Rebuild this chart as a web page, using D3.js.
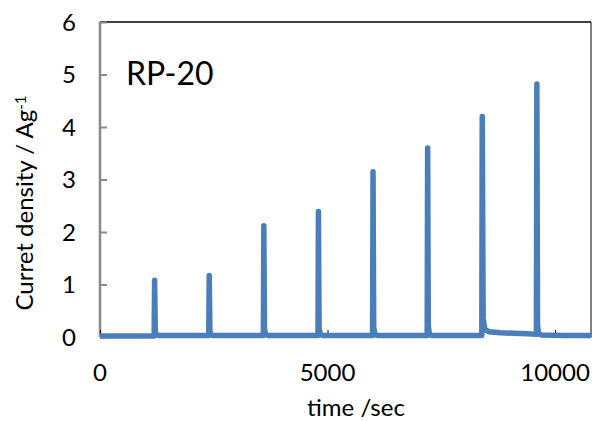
<!DOCTYPE html>
<html lang="en">
<head>
	<meta charset="UTF-8">
	<title>RP-20</title>
	<style type="text/css">
		body { margin: 0; background: #fff; }
		text { font-family: Lato, "Open Sans", sans-serif; fill: #000; }
	</style>
</head>
<body>
	<script type="text/javascript" src="https://cdn.jsdelivr.net/npm/d3@7"></script>
	<script type="text/javascript">
		// time (sec) and current density (A/g)
		var timeSec = [
			0, 600, 1190,
			1200, 1215, 1240, 1300, 1800, 2390,
			2400, 2415, 2440, 2500, 3000, 3590,
			3600, 3615, 3640, 3700, 4200, 4790,
			4800, 4815, 4840, 4900, 5400, 5990,
			6000, 6015, 6040, 6100, 6600, 7190,
			7200, 7215, 7240, 7300, 7800, 8390,
			8400, 8420, 8460, 8550, 8800, 9100, 9400, 9590,
			9600, 9615, 9640, 9700, 10200, 10800
		];
		var currentDensity = [
			0.02, 0.02, 0.02,
			1.08, 0.12, 0.04, 0.03, 0.03, 0.03,
			1.17, 0.12, 0.04, 0.03, 0.03, 0.03,
			2.12, 0.15, 0.05, 0.03, 0.03, 0.03,
			2.39, 0.16, 0.05, 0.03, 0.03, 0.03,
			3.15, 0.18, 0.05, 0.03, 0.03, 0.03,
			3.60, 0.20, 0.05, 0.03, 0.03, 0.03,
			4.20, 0.35, 0.14, 0.10, 0.08, 0.07, 0.06, 0.05,
			4.82, 0.22, 0.06, 0.04, 0.03, 0.03
		];
		var xTicks = [0, 5000, 10000];
		var yTicks = [0, 1, 2, 3, 4, 5, 6];
		var sampleName = 'RP-20';

		var w = 592;
		var h = 421;
		var pad = {left: 100, right: 591, top: 22, bottom: 337};

		var svg = d3.select('body')
					.append('svg')
					.attr('width', w)
					.attr('height', h);

		var x = d3.scaleLinear().domain([0, 10790]).range([pad.left, pad.right]);
		var y = d3.scaleLinear().domain([0, 6]).range([pad.bottom, pad.top]);

		// frame: black top and right
		svg.append('line')
			.attr('x1', pad.left).attr('x2', pad.right)
			.attr('y1', pad.top).attr('y2', pad.top)
			.attr('stroke', '#000').attr('stroke-width', 1.5);
		svg.append('line')
			.attr('x1', pad.right).attr('x2', pad.right)
			.attr('y1', pad.top).attr('y2', pad.bottom)
			.attr('stroke', '#000').attr('stroke-width', 1);

		// y axis (gray, ticks inside)
		var yAxis = d3.axisRight(y)
					.tickValues(yTicks)
					.tickSize(7)
					.tickFormat('');
		var gy = svg.append('g')
					.attr('transform', 'translate(' + pad.left + ',0)')
					.call(yAxis);
		gy.select('.domain').remove();
		gy.selectAll('line').attr('stroke', '#888').attr('stroke-width', 2);
		svg.append('line')
			.attr('x1', pad.left).attr('x2', pad.left)
			.attr('y1', pad.top).attr('y2', pad.bottom)
			.attr('stroke', '#888').attr('stroke-width', 2.5);

		svg.selectAll('.ylab')
			.data(yTicks)
			.enter()
			.append('text')
			.attr('class', 'ylab')
			.attr('x', 76)
			.attr('y', function (d) { return y(d); })
			.attr('dy', '0.36em')
			.attr('text-anchor', 'end')
			.attr('font-size', '24px')
			.text(function (d) { return d; });

		// x axis ticks (small, inside, black)
		var xAxis = d3.axisTop(x)
					.tickValues(xTicks)
					.tickSize(7)
					.tickFormat('');
		var gx = svg.append('g')
					.attr('transform', 'translate(0,' + pad.bottom + ')')
					.call(xAxis);
		gx.select('.domain').remove();
		gx.selectAll('line').attr('stroke', '#000').attr('stroke-width', 1);

		svg.selectAll('.xlab')
			.data(xTicks)
			.enter()
			.append('text')
			.attr('class', 'xlab')
			.attr('x', function (d) { return x(d); })
			.attr('y', 381)
			.attr('text-anchor', 'middle')
			.attr('font-size', '24px')
			.text(function (d) { return d; });

		// data trace
		var pts = d3.zip(timeSec, currentDensity);
		var line = d3.line()
					.x(function (d) { return x(d[0]); })
					.y(function (d) { return y(d[1]); });
		svg.append('path')
			.datum(pts)
			.attr('d', line)
			.attr('fill', 'none')
			.attr('stroke', '#4a7ebb')
			.attr('stroke-width', 5.5)
			.attr('stroke-linejoin', 'round')
			.attr('stroke-linecap', 'butt');

		// titles
		svg.append('text')
			.attr('x', 356)
			.attr('y', 416)
			.attr('text-anchor', 'middle')
			.attr('font-size', '24px')
			.text('time /sec');

		var yt = svg.append('text')
			.attr('transform', 'translate(33,203) rotate(-90)')
			.attr('text-anchor', 'middle')
			.attr('font-size', '24px');
		yt.append('tspan').text('Curret density / Ag');
		yt.append('tspan').attr('dy', '-0.5em').attr('font-size', '15px').text('-1');

		svg.append('text')
			.attr('x', 126)
			.attr('y', 85)
			.attr('font-size', '32px')
			.text(sampleName);
	</script>
</body>
</html>
